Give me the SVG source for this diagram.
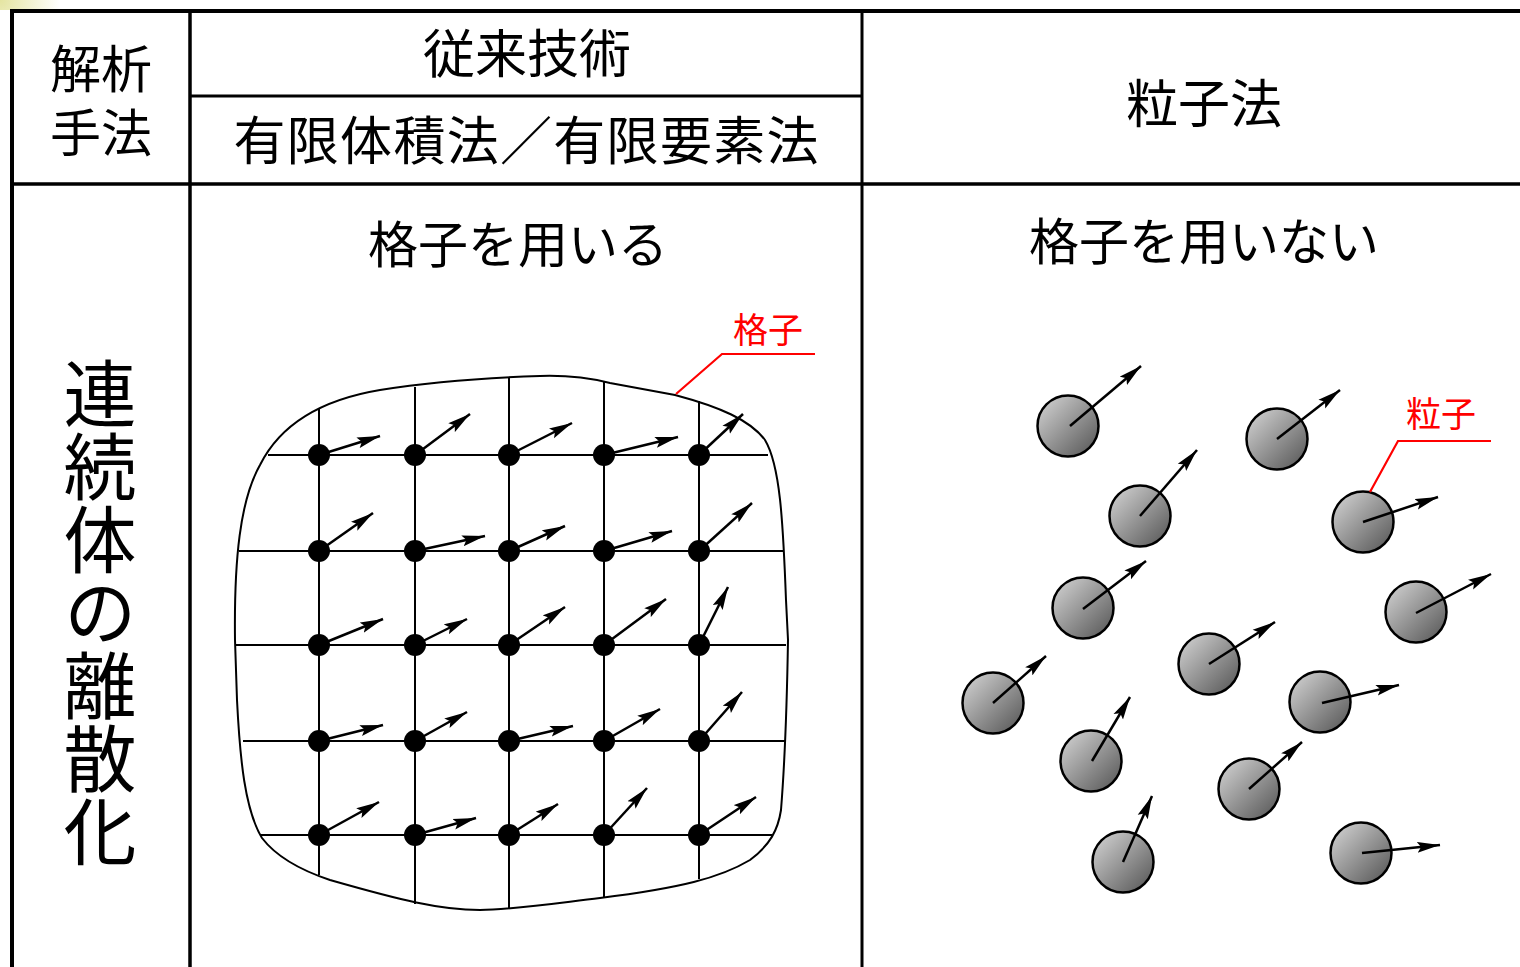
<svg xmlns="http://www.w3.org/2000/svg" width="1520" height="967" viewBox="0 0 1520 967">
<style>
.t{font-family:'Noto Sans CJK JP','Noto Sans CJK SC',sans-serif;fill:#000;text-anchor:middle}
.red{fill:#ff0000}
.tb{stroke:#000;fill:none}
.gl{stroke:#000;stroke-width:2;fill:none}
.dot{fill:#000}
.arr{stroke:#000;stroke-width:2.5;fill:none;marker-end:url(#ah)}
.pc{fill:url(#pg);stroke:#000;stroke-width:2.5}
.lead{stroke:#ff0000;stroke-width:2.2;fill:none}
</style>
<defs>
<marker id="ah" markerUnits="userSpaceOnUse" markerWidth="24" markerHeight="12" refX="23" refY="6" orient="auto" viewBox="0 0 24 12">
<path d="M0,0.5 L23,6 L0,11.5 L4,6 Z" fill="#000"/>
</marker>
<linearGradient id="pg" x1="0.15" y1="0.15" x2="0.85" y2="0.85">
<stop offset="0" stop-color="#c4c4c4"/>
<stop offset="1" stop-color="#666"/>
</linearGradient>
<radialGradient id="yg" cx="0" cy="0" r="60" gradientUnits="userSpaceOnUse">
<stop offset="0" stop-color="#e4e4a0"/>
<stop offset="1" stop-color="#fff"/>
</radialGradient>
</defs>
<rect x="0" y="0" width="1520" height="967" fill="#fff"/>
<rect x="0" y="0" width="70" height="10" fill="url(#yg)"/>

<g id="table">
<line class="tb" x1="10" y1="11" x2="1520" y2="11" stroke-width="4"/>
<line class="tb" x1="12" y1="9" x2="12" y2="967" stroke-width="4"/>
<line class="tb" x1="190" y1="11" x2="190" y2="967" stroke-width="3.5"/>
<line class="tb" x1="862" y1="11" x2="862" y2="967" stroke-width="3"/>
<line class="tb" x1="190" y1="96" x2="862" y2="96" stroke-width="3"/>
<line class="tb" x1="10" y1="184" x2="1520" y2="184" stroke-width="3.5"/>
</g>

<g id="headers">
<text class="t" font-size="51"><tspan x="101" y="88">解析</tspan><tspan x="101" y="152">手法</tspan></text>
<text class="t" x="527" y="73" font-size="52">従来技術</text>
<text class="t" x="526" y="160" font-size="52" textLength="585" lengthAdjust="spacing">有限体積法／有限要素法</text>
<text class="t" x="1204" y="123" font-size="52">粒子法</text>
<text class="t" x="518" y="263" font-size="50">格子を用いる</text>
<text class="t" x="1204" y="260" font-size="50">格子を用いない</text>
<text x="100" y="357" font-size="73" writing-mode="vertical-rl" font-family="'Noto Sans CJK JP','Noto Sans CJK SC',sans-serif" fill="#000">連続体の離散化</text>
</g>

<g id="mesh">
<path class="gl" d="M235,640 C234,560 240,500 260,465 C280,425 320,400 380,390 C430,382 480,378 540,376 C570,375 590,378 610,383 L675,395 C720,407 750,420 765,440 C780,465 783,520 786,600 L788,640 C787,700 785,760 781,810 C778,830 770,845 750,860 C720,878 680,888 600,898 C550,904 510,910 480,910 C440,910 400,900 330,880 C300,870 275,855 262,838 C245,810 240,760 237,700 Z"/>
<line class="gl" x1="268" y1="455" x2="768" y2="455"/>
<line class="gl" x1="239" y1="551" x2="783" y2="551"/>
<line class="gl" x1="235" y1="645" x2="786" y2="645"/>
<line class="gl" x1="243" y1="741" x2="785" y2="741"/>
<line class="gl" x1="260" y1="835" x2="772" y2="835"/>
<line class="gl" x1="319" y1="408" x2="319" y2="875"/>
<line class="gl" x1="415" y1="387" x2="415" y2="904"/>
<line class="gl" x1="509" y1="378" x2="509" y2="909"/>
<line class="gl" x1="604" y1="382" x2="604" y2="897"/>
<line class="gl" x1="699" y1="401" x2="699" y2="879"/>
</g>

<g id="mesh-nodes">
<circle class="dot" cx="319" cy="455" r="11"/><circle class="dot" cx="415" cy="455" r="11"/><circle class="dot" cx="509" cy="455" r="11"/><circle class="dot" cx="604" cy="455" r="11"/><circle class="dot" cx="699" cy="455" r="11"/>
<circle class="dot" cx="319" cy="551" r="11"/><circle class="dot" cx="415" cy="551" r="11"/><circle class="dot" cx="509" cy="551" r="11"/><circle class="dot" cx="604" cy="551" r="11"/><circle class="dot" cx="699" cy="551" r="11"/>
<circle class="dot" cx="319" cy="645" r="11"/><circle class="dot" cx="415" cy="645" r="11"/><circle class="dot" cx="509" cy="645" r="11"/><circle class="dot" cx="604" cy="645" r="11"/><circle class="dot" cx="699" cy="645" r="11"/>
<circle class="dot" cx="319" cy="741" r="11"/><circle class="dot" cx="415" cy="741" r="11"/><circle class="dot" cx="509" cy="741" r="11"/><circle class="dot" cx="604" cy="741" r="11"/><circle class="dot" cx="699" cy="741" r="11"/>
<circle class="dot" cx="319" cy="835" r="11"/><circle class="dot" cx="415" cy="835" r="11"/><circle class="dot" cx="509" cy="835" r="11"/><circle class="dot" cx="604" cy="835" r="11"/><circle class="dot" cx="699" cy="835" r="11"/>
</g>

<g id="particles">
<g id="p1"><circle class="pc" cx="1068" cy="426" r="30.5"/></g>
<g id="p2"><circle class="pc" cx="1277" cy="439" r="30.5"/></g>
<g id="p3"><circle class="pc" cx="1140" cy="516" r="30.5"/></g>
<g id="p4"><circle class="pc" cx="1363" cy="522" r="30.5"/></g>
<g id="p5"><circle class="pc" cx="1083" cy="608" r="30.5"/></g>
<g id="p6"><circle class="pc" cx="1416" cy="612" r="30.5"/></g>
<g id="p7"><circle class="pc" cx="1209" cy="664" r="30.5"/></g>
<g id="p8"><circle class="pc" cx="993" cy="703" r="30.5"/></g>
<g id="p9"><circle class="pc" cx="1320" cy="702" r="30.5"/></g>
<g id="p10"><circle class="pc" cx="1091" cy="761" r="30.5"/></g>
<g id="p11"><circle class="pc" cx="1249" cy="789" r="30.5"/></g>
<g id="p12"><circle class="pc" cx="1123" cy="862" r="30.5"/></g>
<g id="p13"><circle class="pc" cx="1361" cy="853" r="30.5"/></g>
</g>

<g id="connectors">
<line class="arr" x1="319" y1="455" x2="380" y2="436"/>
<line class="arr" x1="415" y1="455" x2="470" y2="414"/>
<line class="arr" x1="509" y1="455" x2="572" y2="423"/>
<line class="arr" x1="604" y1="455" x2="678" y2="437"/>
<line class="arr" x1="699" y1="455" x2="743" y2="414"/>
<line class="arr" x1="319" y1="551" x2="373" y2="513"/>
<line class="arr" x1="415" y1="551" x2="485" y2="536"/>
<line class="arr" x1="509" y1="551" x2="565" y2="526"/>
<line class="arr" x1="604" y1="551" x2="672" y2="531"/>
<line class="arr" x1="699" y1="551" x2="752" y2="503"/>
<line class="arr" x1="319" y1="645" x2="383" y2="619"/>
<line class="arr" x1="415" y1="645" x2="467" y2="619"/>
<line class="arr" x1="509" y1="645" x2="565" y2="607"/>
<line class="arr" x1="604" y1="645" x2="666" y2="599"/>
<line class="arr" x1="699" y1="645" x2="728" y2="587"/>
<line class="arr" x1="319" y1="741" x2="383" y2="725"/>
<line class="arr" x1="415" y1="741" x2="467" y2="712"/>
<line class="arr" x1="509" y1="741" x2="573" y2="726"/>
<line class="arr" x1="604" y1="741" x2="660" y2="709"/>
<line class="arr" x1="699" y1="741" x2="742" y2="692"/>
<line class="arr" x1="319" y1="835" x2="379" y2="802"/>
<line class="arr" x1="415" y1="835" x2="476" y2="818"/>
<line class="arr" x1="509" y1="835" x2="558" y2="804"/>
<line class="arr" x1="604" y1="835" x2="647" y2="788"/>
<line class="arr" x1="699" y1="835" x2="756" y2="797"/>

<line class="arr" x1="1070" y1="426" x2="1141" y2="366"/>
<line class="arr" x1="1277" y1="439" x2="1340" y2="390"/>
<line class="arr" x1="1140" y1="516" x2="1197" y2="450"/>
<line class="arr" x1="1363" y1="522" x2="1438" y2="497"/>
<line class="arr" x1="1083" y1="609" x2="1146" y2="561"/>
<line class="arr" x1="1416" y1="613" x2="1491" y2="574"/>
<line class="arr" x1="1209" y1="664" x2="1275" y2="622"/>
<line class="arr" x1="993" y1="703" x2="1046" y2="656"/>
<line class="arr" x1="1322" y1="703" x2="1399" y2="685"/>
<line class="arr" x1="1092" y1="761" x2="1130" y2="697"/>
<line class="arr" x1="1249" y1="789" x2="1302" y2="742"/>
<line class="arr" x1="1123" y1="862" x2="1152" y2="796"/>
<line class="arr" x1="1362" y1="853" x2="1440" y2="845"/>
</g>

<g id="labels">
<polyline class="lead" points="676,394 722,354 815,354"/>
<text class="t red" x="768" y="343" font-size="35">格子</text>
<polyline class="lead" points="1370,492 1398,441 1491,441"/>
<text class="t red" x="1441" y="427" font-size="35">粒子</text>
</g>
</svg>
